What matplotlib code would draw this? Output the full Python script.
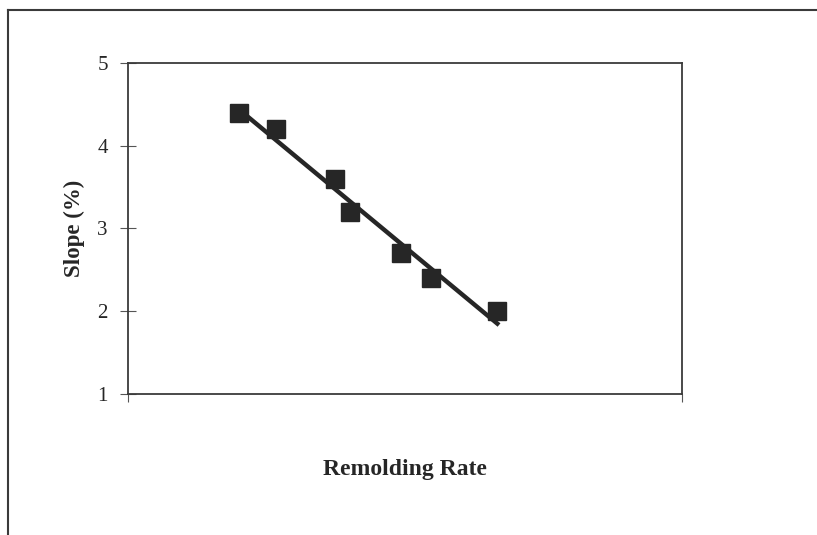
import matplotlib.pyplot as plt
import numpy as np
from matplotlib.lines import Line2D

plt.rcParams['font.family'] = ['Liberation Serif', 'DejaVu Serif']

# remolding rate (arbitrary units, no tick labels shown) and slope (%)
remolding_rate = [3.0, 4.0, 5.6, 6.0, 7.4, 8.2, 10.0]
slope = [4.4, 4.2, 3.6, 3.2, 2.7, 2.4, 2.0]
y_ticks = [1, 2, 3, 4, 5]

ink = '#262626'

fig = plt.figure(figsize=(8.17, 5.35), dpi=100)
ax = fig.add_axes([0.1567, 0.2636, 0.678, 0.6187])

# linear trendline through the points
k, b = np.polyfit(remolding_rate, slope, 1)
xs = np.array([min(remolding_rate), max(remolding_rate)])
ax.plot(xs, k * xs + b, color=ink, linewidth=3.2, zorder=2)

ax.plot(remolding_rate, slope, linestyle='none', marker='s', markersize=13,
        color=ink, zorder=3)

ax.set_xlim(0, 15)
ax.set_ylim(1, 5)
ax.set_yticks(y_ticks)
ax.set_xticks([0, 15])
ax.set_xticklabels([])

for s in ax.spines.values():
    s.set_color('#3a3a3a')
    s.set_linewidth(1.3)

ax.tick_params(axis='y', direction='inout', length=11, width=0.8, color='#555555',
               labelsize=15, pad=9, labelcolor=ink)
ax.tick_params(axis='x', direction='out', length=6, width=0.8, color='#555555')

ax.set_ylabel('Slope (%)', fontsize=16.5, fontweight='bold', color=ink, labelpad=9)
ax.set_xlabel('Remolding Rate', fontsize=17, fontweight='bold', color=ink, labelpad=37)

# outer frame of the scanned chart (top and left edges visible)
fig.add_artist(Line2D([8 / 817, 1.0], [1 - 10 / 535, 1 - 10 / 535],
                      color='#3a3a3a', linewidth=1.5, transform=fig.transFigure))
fig.add_artist(Line2D([8 / 817, 8 / 817], [0.0, 1 - 10 / 535],
                      color='#3a3a3a', linewidth=1.5, transform=fig.transFigure))

fig.savefig('out.png', dpi=100)
